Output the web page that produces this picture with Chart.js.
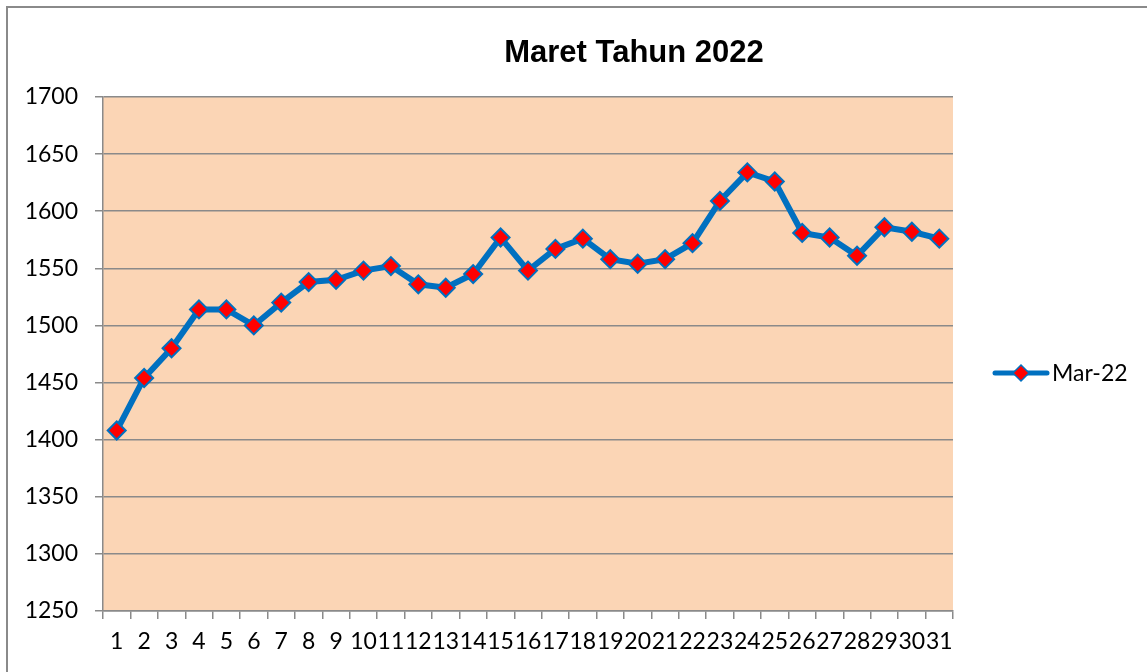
<!DOCTYPE html>
<html>
<head>
<meta charset="utf-8">
<script src="https://cdn.jsdelivr.net/npm/chart.js@4/dist/chart.umd.min.js"></script>
<style>
  html, body { margin: 0; padding: 0; background: #fff; }
  #wrap { position: relative; width: 1147px; height: 672px; overflow: hidden; }
  #frame { position: absolute; left: 6px; top: 6px; width: 1300px; height: 800px;
           border: 2px solid #8a8a8a; pointer-events: none; }
</style>
</head>
<body>
<div id="wrap">
  <canvas id="harga" width="1147" height="672"></canvas>
  <div id="frame"></div>
</div>
<script>
// tanggal bulan Maret
var hari = [];
for (var i = 1; i <= 31; i++) hari.push(String(i));

// nilai harian Mar-22
var nilai = [1408, 1454, 1480, 1514, 1514, 1500, 1520, 1538, 1540, 1548,
             1552, 1536, 1533, 1545, 1577, 1548, 1567, 1576, 1558, 1554,
             1558, 1572, 1609, 1634, 1626, 1581, 1577, 1561, 1586, 1582, 1576];

var judul = 'Maret Tahun 2022';
var namaSeri = 'Mar-22';

var biru = '#0070C0';
var merah = '#FF0000';
var font = 'Lato, "Noto Sans", sans-serif';

// latar area plot, judul dan legenda
var hiasan = {
    id: 'hiasan',
    beforeDraw: function(chart) {
        var ca = chart.chartArea, ctx = chart.ctx;
        ctx.save();
        ctx.fillStyle = '#FBD5B5';
        ctx.fillRect(ca.left, ca.top, ca.right - ca.left, ca.bottom - ca.top);
        ctx.restore();
    },
    afterDraw: function(chart) {
        var ctx = chart.ctx;
        ctx.save();
        ctx.fillStyle = '#000';
        ctx.font = 'bold 31px "Liberation Sans", Arial, sans-serif';
        ctx.textAlign = 'center';
        ctx.textBaseline = 'alphabetic';
        ctx.fillText(judul, 634, 62);

        // legenda
        var y = 373;
        ctx.strokeStyle = biru;
        ctx.lineWidth = 5;
        ctx.lineCap = 'round';
        ctx.beginPath();
        ctx.moveTo(995, y);
        ctx.lineTo(1047, y);
        ctx.stroke();
        ctx.fillStyle = merah;
        ctx.lineWidth = 1.5;
        ctx.beginPath();
        ctx.moveTo(1021, y - 8);
        ctx.lineTo(1029, y);
        ctx.lineTo(1021, y + 8);
        ctx.lineTo(1013, y);
        ctx.closePath();
        ctx.fill();
        ctx.stroke();
        ctx.fillStyle = '#000';
        ctx.font = '23px ' + font;
        ctx.textAlign = 'left';
        ctx.textBaseline = 'middle';
        ctx.fillText(namaSeri, 1052, y + 1);
        ctx.restore();
    }
};

var ctx = document.getElementById('harga');
var hargaChart = new Chart(ctx, {
    type: 'line',
    data: {
        labels: hari,
        datasets: [{
            label: namaSeri,
            data: nilai,
            borderColor: biru,
            borderWidth: 6,
            backgroundColor: merah,
            pointStyle: 'rectRot',
            pointRadius: 9,
            pointBorderWidth: 2,
            pointBorderColor: biru,
            pointBackgroundColor: merah,
            tension: 0
        }]
    },
    options: {
        responsive: false,
        animation: false,
        layout: {
            padding: { top: 97, right: 194, left: 0, bottom: 0 }
        },
        plugins: {
            legend: { display: false },
            title: { display: false },
            tooltip: { enabled: false }
        },
        scales: {
            x: {
                offset: true,
                grid: {
                    offset: true,
                    drawOnChartArea: false,
                    tickLength: 8,
                    color: '#8a8a8a',
                    lineWidth: 1.5
                },
                border: { color: '#8a8a8a', width: 1.5 },
                ticks: {
                    autoSkip: false,
                    maxRotation: 0,
                    minRotation: 0,
                    padding: 9,
                    color: '#000',
                    font: { family: font, size: 23 }
                },
                afterFit: function(s) { s.height = 61; }
            },
            y: {
                min: 1250,
                max: 1700,
                ticks: {
                    stepSize: 50,
                    padding: 17,
                    color: '#000',
                    font: { family: font, size: 23 },
                    callback: function(v) { return String(v); }
                },
                grid: {
                    color: '#8a8a8a',
                    lineWidth: 1.5,
                    tickLength: 8
                },
                border: { color: '#8a8a8a', width: 1.5 },
                afterFit: function(s) { s.width = 103; }
            }
        }
    },
    plugins: [hiasan]
});
</script>
</body>
</html>
